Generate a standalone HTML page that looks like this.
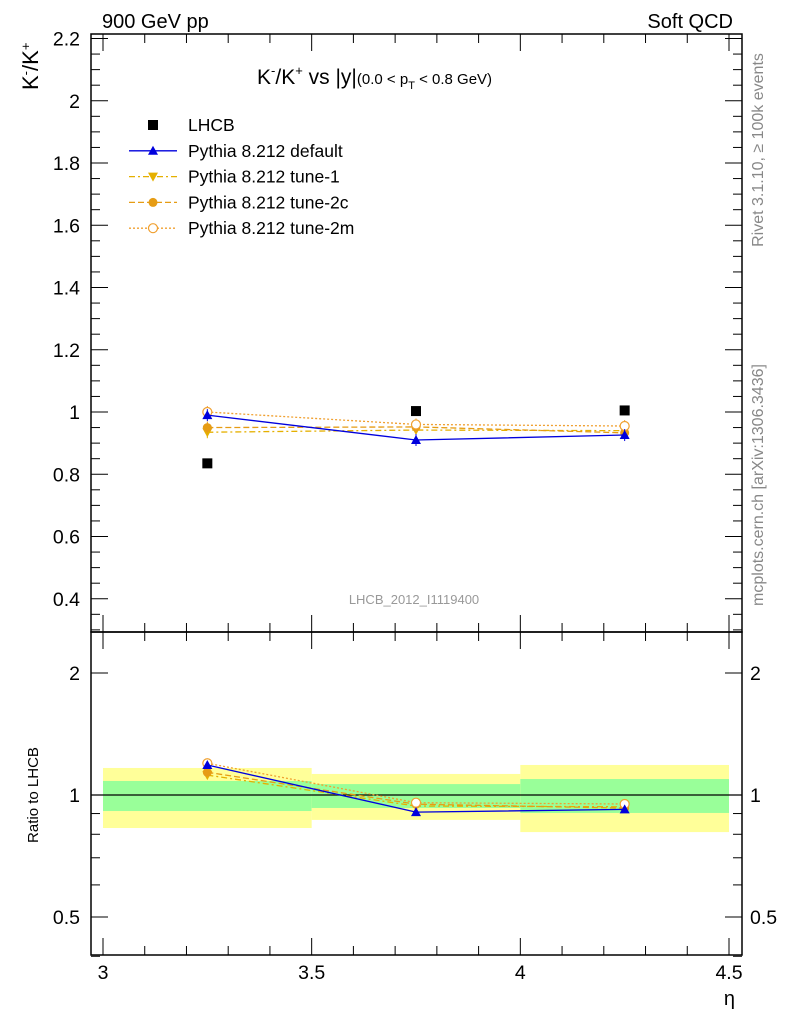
<!DOCTYPE html>
<html><head><meta charset="utf-8"><style>
body{margin:0;background:#fff}
svg text{font-family:"Liberation Sans",sans-serif}
</style></head><body>
<svg id="c" width="786" height="1024" xmlns="http://www.w3.org/2000/svg"></svg>
<script>
const xCenters=[3.25,3.75,4.25];
const binEdges=[3.0,3.5,4.0,4.5];
const lhcb=[0.835,1.003,1.005];
const pyDefault=[0.99,0.91,0.926];
const pyTune1=[0.935,0.942,0.94];
const pyTune2c=[0.95,0.952,0.933];
const pyTune2m=[1.0,0.96,0.955];
const bandInnerLo=[0.913,0.929,0.903];
const bandInnerHi=[1.083,1.064,1.095];
const bandOuterLo=[0.829,0.868,0.810];
const bandOuterHi=[1.166,1.127,1.186];
const mainTicks=[0.4,0.6,0.8,1,1.2,1.4,1.6,1.8,2,2.2];
const xTicks=[3,3.5,4,4.5];
const ratioTicks=[0.5,1,2];

const NS="http://www.w3.org/2000/svg";
const svg=document.getElementById('c');
const L=91,R=742,T=34,MB=632,B=955;
const X=v=>103+(v-3)*417.33;
const Y=v=>412-(v-1)*311.25;
const RY=v=>795-122*Math.log2(v);
function el(t,a,p){const e=document.createElementNS(NS,t);for(const k in a)e.setAttribute(k,a[k]);(p||svg).appendChild(e);return e;}
function txt(x,y,s,size,anchor,fill,name){const e=el('text',{x:x,y:y,'font-size':size,'text-anchor':anchor||'start',fill:fill||'#000'});e.textContent=s;return e;}

for(let i=0;i<3;i++){
 const o=el('rect',{x:X(binEdges[i]),y:RY(bandOuterHi[i]),width:X(binEdges[i+1])-X(binEdges[i]),height:RY(bandOuterLo[i])-RY(bandOuterHi[i]),fill:'#ffff99'});
 
 const n=el('rect',{x:X(binEdges[i]),y:RY(bandInnerHi[i]),width:X(binEdges[i+1])-X(binEdges[i]),height:RY(bandInnerLo[i])-RY(bandInnerHi[i]),fill:'#99ff99'});
 
}
const one=el('line',{x1:L,x2:R,y1:RY(1),y2:RY(1),stroke:'#000','stroke-width':1.2});


for(const [y1,y2,n] of [[T,MB,'main-frame'],[MB,B,'ratio-frame']]){
 const f=el('rect',{x:L,y:y1,width:R-L,height:y2-y1,fill:'none',stroke:'#000','stroke-width':1.5});
 
}
for(let v=0.3;v<=2.21;v+=0.05){
 const major=Math.abs(v*5-Math.round(v*5))<1e-6;const len=major?17:9;
 el('line',{x1:L,x2:L+len,y1:Y(v),y2:Y(v),stroke:'#000'});
 el('line',{x1:R,x2:R-len,y1:Y(v),y2:Y(v),stroke:'#000'});
}
mainTicks.forEach(v=>txt(80,Y(v)+7,String(v),19.5,'end','#000','y-tick-label'));
[0.4,0.5,0.6,0.7,0.8,0.9,1,2].forEach(v=>{
 const major=ratioTicks.includes(v);const len=major?17:9;
 el('line',{x1:L,x2:L+len,y1:RY(v),y2:RY(v),stroke:'#000'});
 el('line',{x1:R,x2:R-len,y1:RY(v),y2:RY(v),stroke:'#000'});
});
ratioTicks.forEach(v=>{txt(80,RY(v)+7,String(v),19.5,'end','#000','ratio-tick-label');txt(750,RY(v)+7,String(v),19.5,'start','#000','ratio-tick-label-right');});
for(let v=3;v<=4.51;v+=0.1){
 const major=Math.abs(v*2-Math.round(v*2))<1e-6;const len=major?17:9;
 [T,MB].forEach(y=>el('line',{x1:X(v),x2:X(v),y1:y,y2:y+len,stroke:'#000'}));
 [MB,B].forEach(y=>el('line',{x1:X(v),x2:X(v),y1:y,y2:y-len,stroke:'#000'}));
}
xTicks.forEach(v=>txt(X(v),979,String(v),19.5,'middle','#000','x-tick-label'));

const series=[
 {d:pyTune1,c:'#e5b000',dash:'6,3,2,3',m:'tridown',n:'tune-1'},
 {d:pyTune2c,c:'#e69c14',dash:'6,3',m:'circle',n:'tune-2c'},
 {d:pyTune2m,c:'#f0a030',dash:'2,2',m:'ocircle',n:'tune-2m'},
 {d:pyDefault,c:'#0000dd',dash:'',m:'tri',n:'default'}
];
function marker(x,y,m,c,name,g){
 let e;
 if(m==='tri')e=el('polygon',{points:`${x-5},${y+4} ${x+5},${y+4} ${x},${y-5}`,fill:c},g);
 else if(m==='tridown')e=el('polygon',{points:`${x-5},${y-4} ${x+5},${y-4} ${x},${y+5}`,fill:c},g);
 else if(m==='circle')e=el('circle',{cx:x,cy:y,r:4.5,fill:c},g);
 else if(m==='ocircle')e=el('circle',{cx:x,cy:y,r:4.5,fill:'#fff',stroke:c,'stroke-width':1.2},g);
 else e=el('rect',{x:x-5,y:y-5,width:10,height:10,fill:c},g);
 
}
series.forEach(s=>{
 const g=el('g',{});
 const pts=s.d.map((v,i)=>X(xCenters[i])+','+Y(v)).join(' ');
 el('polyline',{points:pts,fill:'none',stroke:s.c,'stroke-width':1.3,'stroke-dasharray':s.dash},g);
 const rp=s.d.map((v,i)=>X(xCenters[i])+','+RY(v/lhcb[i])).join(' ');
 el('polyline',{points:rp,fill:'none',stroke:s.c,'stroke-width':1.3,'stroke-dasharray':s.dash},g);
 s.d.forEach((v,i)=>{
  el('line',{x1:X(xCenters[i]),x2:X(xCenters[i]),y1:Y(v)-6,y2:Y(v)+6,stroke:s.c},g);
  marker(X(xCenters[i]),Y(v),s.m,s.c,'point-'+s.n,g);
  marker(X(xCenters[i]),RY(v/lhcb[i]),s.m,s.c,'ratio-point-'+s.n,g);
 });
});
lhcb.forEach((v,i)=>marker(X(xCenters[i]),Y(v),'sq','#000','lhcb-point',svg));

const leg=[['LHCB','#000','','sq'],['Pythia 8.212 default','#0000dd','','tri'],['Pythia 8.212 tune-1','#e5b000','6,3,2,3','tridown'],['Pythia 8.212 tune-2c','#e69c14','6,3','circle'],['Pythia 8.212 tune-2m','#f0a030','2,2','ocircle']];
leg.forEach((l,i)=>{
 const y=125+i*25.8;
 const g=el('g',{});
 if(i>0)el('line',{x1:129,x2:177,y1:y,y2:y,stroke:l[1],'stroke-width':1.3,'stroke-dasharray':l[2]},g);
 marker(153,y,l[3],l[1],'legend-marker',g);
 const t=txt(188,y+6,l[0],17.5,'start','#000','legend-label');g.appendChild(t);
});

txt(102,28,'900 GeV pp',20,'start','#000','top-left-label');
txt(733,28,'Soft QCD',20,'end','#000','top-right-label');
const tt=el('text',{x:257,y:84,'font-size':21});
tt.innerHTML='K<tspan dy="-9" font-size="13">-</tspan><tspan dy="9">/K</tspan><tspan dy="-9" font-size="13">+</tspan><tspan dy="9"> vs |y|</tspan><tspan font-size="15">(0.0 &lt; p</tspan><tspan font-size="11" dy="5">T</tspan><tspan font-size="15" dy="-5"> &lt; 0.8 GeV)</tspan>';
const yl=el('text',{transform:'translate(38,90) rotate(-90)','font-size':22});
yl.innerHTML='K<tspan dy="-8" font-size="13">-</tspan><tspan dy="8">/K</tspan><tspan dy="-8" font-size="13">+</tspan>';
txt(0,0,'Ratio to LHCB',15,'middle','#000','ratio-axis-title').setAttribute('transform','translate(38,795) rotate(-90)');
txt(735,1005,'η',20,'end','#000','x-axis-title');
txt(414,604,'LHCB_2012_I1119400',13,'middle','#999','analysis-id');
txt(0,0,'Rivet 3.1.10, ≥ 100k events',16,'middle','#888','rivet-label').setAttribute('transform','translate(763,150) rotate(-90)');
txt(0,0,'mcplots.cern.ch [arXiv:1306.3436]',16,'middle','#888','mcplots-label').setAttribute('transform','translate(763,485) rotate(-90)');
</script>
</body></html>
